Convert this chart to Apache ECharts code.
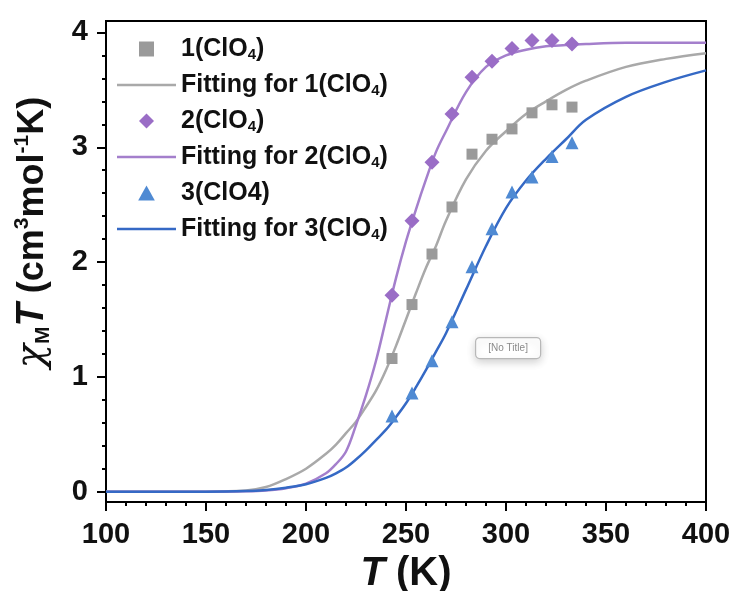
<!DOCTYPE html>
<html><head><meta charset="utf-8">
<script src="https://cdn.jsdelivr.net/npm/echarts@6/dist/echarts.min.js"></script>
<style>html,body{margin:0;padding:0;background:#fff}#c{width:736px;height:591px}</style>
</head><body><div id="c"></div>
<script>
// Measured points (T in K, chiM*T in cm3 mol-1 K)
const measT = [243, 253, 263, 273, 283, 293, 303, 313, 323, 333];
const meas1 = [1.16, 1.63, 2.07, 2.48, 2.94, 3.07, 3.16, 3.30, 3.37, 3.35];
const meas2 = [1.71, 2.36, 2.87, 3.29, 3.61, 3.75, 3.86, 3.93, 3.93, 3.90];
const meas3 = [0.66, 0.86, 1.14, 1.48, 1.96, 2.29, 2.61, 2.74, 2.92, 3.04];

// Fitted curves
const fitT = [100, 150, 170, 180, 190, 200, 210, 215, 220, 225, 230, 235, 240, 245, 250, 255, 260, 265, 270, 280, 290, 300, 310, 320, 330, 340, 360, 380, 400];
const fit1 = [0, 0, 0.01, 0.04, 0.11, 0.20, 0.33, 0.41, 0.51, 0.61, 0.74, 0.88, 1.06, 1.27, 1.50, 1.73, 1.95, 2.14, 2.36, 2.72, 2.97, 3.14, 3.29, 3.40, 3.50, 3.58, 3.70, 3.77, 3.82];
const fit2 = [0, 0, 0.003, 0.01, 0.03, 0.07, 0.16, 0.24, 0.35, 0.58, 0.84, 1.14, 1.50, 1.86, 2.18, 2.46, 2.72, 2.96, 3.14, 3.48, 3.70, 3.80, 3.85, 3.88, 3.89, 3.90, 3.91, 3.91, 3.91];
const fit3 = [0, 0, 0.005, 0.015, 0.035, 0.065, 0.12, 0.16, 0.21, 0.28, 0.36, 0.45, 0.54, 0.65, 0.77, 0.91, 1.06, 1.22, 1.38, 1.76, 2.14, 2.47, 2.71, 2.90, 3.07, 3.24, 3.44, 3.57, 3.67];

const yMajorTicks = [0, 1, 2, 3, 4];
const yMinorTicks = [0.2, 0.4, 0.6, 0.8, 1.2, 1.4, 1.6, 1.8, 2.2, 2.4, 2.6, 2.8, 3.2, 3.4, 3.6, 3.8];
const seriesNames = ['1(ClO4)', 'Fitting for 1(ClO4)', '2(ClO4)', 'Fitting for 2(ClO4)', '3(ClO4)', 'Fitting for 3(ClO4)'];

function pairs(xs, ys) { return xs.map((x, i) => [x, ys[i]]); }

const FF = '"Liberation Sans", Arial, sans-serif';
const chart = echarts.init(document.getElementById('c'), null, {renderer: 'canvas'});

const fitLine = (name, xs, ys, color) => ({
  name, type: 'line', data: pairs(xs, ys), showSymbol: false, symbol: 'none',
  smooth: 0.35,
  lineStyle: {color, width: 2.5}, itemStyle: {color}, z: 2, silent: true
});
const scat = (name, ys, symbol, size, color) => ({
  name, type: 'scatter', data: pairs(measT, ys), symbol, symbolSize: size,
  itemStyle: {color, opacity: 1}, z: 3, silent: true
});

const LINE_ICON = 'path://M0,0h240v10h-240z';
const legendData = [
  {name: seriesNames[0], icon: 'path://M0,0h10v10h-10z'},
  {name: seriesNames[1], icon: LINE_ICON},
  {name: seriesNames[2], icon: 'path://M5,0L10,5L5,10L0,5z'},
  {name: seriesNames[3], icon: LINE_ICON},
  {name: seriesNames[4], icon: 'path://M5,0L10,9L0,9z'},
  {name: seriesNames[5], icon: LINE_ICON}
];

chart.setOption({
  animation: false,
  backgroundColor: '#fff',
  grid: {left: 106, right: 30, top: 21, bottom: 89, containLabel: false, outerBoundsMode: 'none',
         show: true, borderColor: '#000', borderWidth: 2, backgroundColor: 'transparent'},
  legend: {
    orient: 'vertical', left: 117, top: 36, padding: 0, itemWidth: 59, itemHeight: 15, itemGap: 10,
    symbolKeepAspect: true,
    data: legendData,
    formatter: n => n === '3(ClO4)' ? n : n.replace('ClO4)', 'ClO{s|4})'),
    textStyle: {
      fontFamily: FF, fontSize: 25, fontWeight: 'bold', color: '#111', lineHeight: 26,
      rich: {s: {fontFamily: FF, fontSize: 15, fontWeight: 'bold', color: '#111', verticalAlign: 'bottom', lineHeight: 14}}
    }
  },
  xAxis: {
    type: 'value', min: 100, max: 400, interval: 50,
    name: '{t|T}{n| (K)}', nameLocation: 'middle', nameGap: 52,
    nameTextStyle: {rich: {
      t: {fontFamily: FF, fontSize: 40, fontWeight: 'bold', fontStyle: 'italic', color: '#111'},
      n: {fontFamily: FF, fontSize: 40, fontWeight: 'bold', color: '#111'}
    }},
    axisLine: {onZero: false, lineStyle: {color: '#000', width: 2}},
    axisTick: {length: 9, lineStyle: {color: '#000', width: 2}},
    minorTick: {show: true, splitNumber: 5, length: 4, lineStyle: {color: '#000', width: 2}},
    axisLabel: {fontFamily: FF, fontSize: 29, fontWeight: 'bold', color: '#111', margin: 18},
    splitLine: {show: false}
  },
  yAxis: [{
    type: 'value', min: -0.09, max: 4.1, position: 'left',
    name: '{chi|χ}{sub|M}{t|T}{n| (cm}{sup|3}{n|mol}{sup|-1}{n|K)}',
    nameLocation: 'middle', nameRotate: 90, nameGap: 52,
    nameTextStyle: {padding: [0, 0, 0, 58], rich: {
      chi: {fontFamily: '"DejaVu Serif", serif', fontStyle: 'italic', fontSize: 40, color: '#111', lineHeight: 42},
      sub: {fontFamily: FF, fontSize: 21, fontWeight: 'bold', color: '#111', verticalAlign: 'bottom', lineHeight: 21},
      t: {fontFamily: FF, fontSize: 38, fontWeight: 'bold', fontStyle: 'italic', color: '#111', lineHeight: 42},
      n: {fontFamily: FF, fontSize: 36, fontWeight: 'bold', color: '#111', lineHeight: 42},
      sup: {fontFamily: FF, fontSize: 21, fontWeight: 'bold', color: '#111', verticalAlign: 'top', lineHeight: 21}
    }},
    axisLine: {onZero: false, lineStyle: {color: '#000', width: 2}},
    axisTick: {customValues: yMajorTicks, length: 9, lineStyle: {color: '#000', width: 2}},
    axisLabel: {customValues: yMajorTicks, fontFamily: FF, fontSize: 29, fontWeight: 'bold', color: '#111', margin: 18},
    splitLine: {show: false}
  }, {
    type: 'value', min: -0.09, max: 4.1, position: 'left', offset: 0,
    axisLine: {show: false},
    axisTick: {customValues: yMinorTicks, length: 4, lineStyle: {color: '#000', width: 2}},
    axisLabel: {show: false}, splitLine: {show: false}
  }],
  series: [
    scat(seriesNames[0], meas1, 'rect', 11, '#9a9a9a'),
    fitLine(seriesNames[1], fitT, fit1, '#a9a9a9'),
    scat(seriesNames[2], meas2, 'diamond', 15, '#9a6dc6'),
    fitLine(seriesNames[3], fitT, fit2, '#a47fcc'),
    scat(seriesNames[4], meas3, 'triangle', 13, '#4f8ad3'),
    fitLine(seriesNames[5], fitT, fit3, '#3569c5')
  ],
  graphic: [{
    type: 'group', left: 475, top: 337, silent: true,
    children: [
      {type: 'rect', shape: {x: 0, y: 0, width: 65, height: 21, r: 4},
       style: {fill: '#fff', stroke: '#b8b8b8', lineWidth: 1.2, shadowBlur: 8, shadowOffsetY: 3, shadowColor: 'rgba(0,0,0,0.18)'}},
      {type: 'text', x: 32.5, y: 10.5,
       style: {text: '[No Title]', fontFamily: FF, fontSize: 10, fill: '#8a8a8a', align: 'center', verticalAlign: 'middle'}}
    ]
  }]
});
</script></body></html>
